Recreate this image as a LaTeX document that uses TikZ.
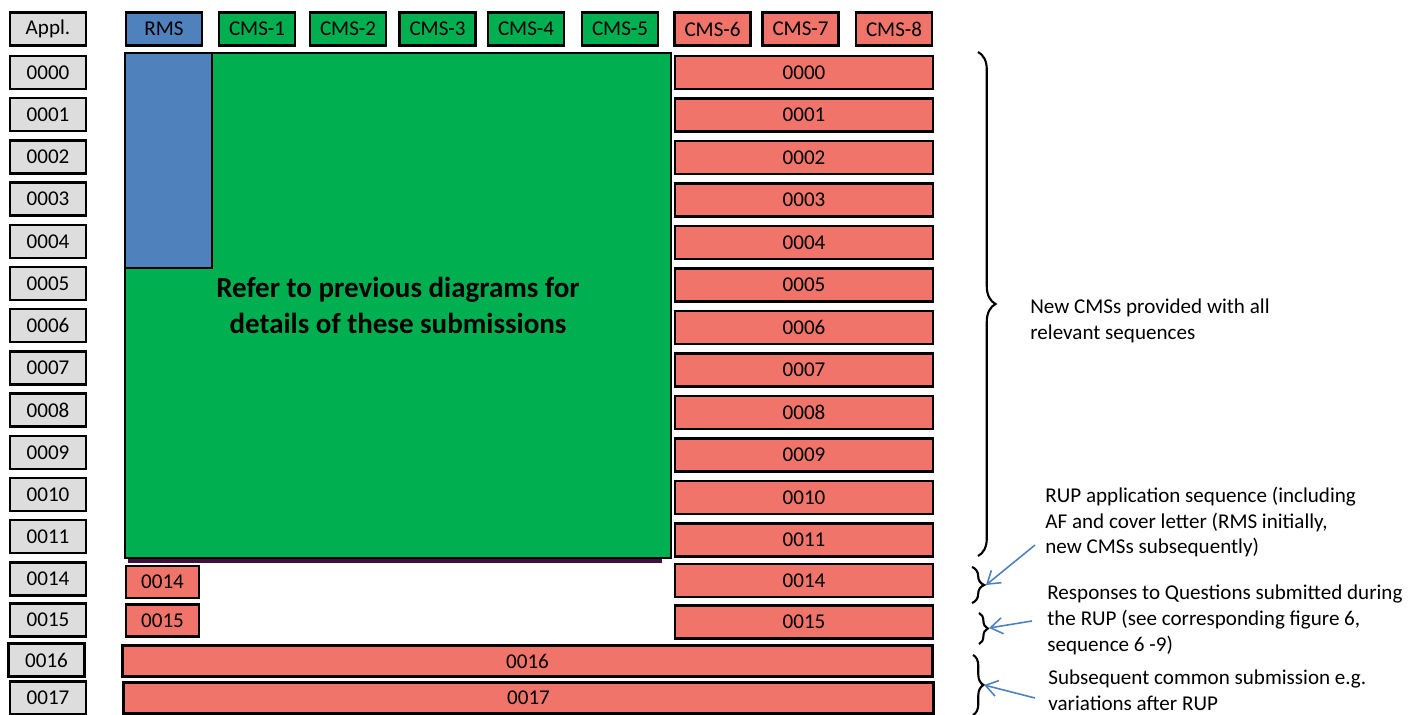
\documentclass[tikz,border=0pt]{standalone}
\usepackage{fontspec}
\setmainfont{Carlito}
\usepackage{tikz}
\usetikzlibrary{
  arrows.meta,
  positioning,
  decorations.pathreplacing,
  calc
}
\definecolor{SeqGray}{HTML}{DDDDDD}
\definecolor{RmsBlue}{HTML}{4F81BD}
\definecolor{CmsGreen}{HTML}{00B050}
\definecolor{CmsRed}{HTML}{F07469}
\definecolor{ArrowBlue}{HTML}{4F81BD}
\definecolor{ShadowPurple}{HTML}{3F0F3F}
\tikzset{
  cell/.style={
    draw=black,
    line width=1.3pt,
    inner sep=0pt,
    align=center,
    font=\fontsize{12}{14}\selectfont
  },
  seqbox/.style={
    cell,
    fill=SeqGray,
    minimum width=1.52cm,
    minimum height=0.66cm
  },
  rmsbox/.style={
    cell,
    fill=RmsBlue,
    minimum width=1.52cm,
    minimum height=0.66cm
  },
  cmsbox/.style={
    cell,
    fill=CmsGreen,
    minimum width=1.52cm,
    minimum height=0.66cm
  },
  newbox/.style={
    cell,
    fill=CmsRed,
    minimum width=1.52cm,
    minimum height=0.66cm
  },
  smallbox/.style={
    cell,
    fill=CmsRed,
    minimum width=1.46cm,
    minimum height=0.64cm
  },
  bar/.style={
    cell,
    fill=CmsRed,
    minimum width=5.16cm,
    minimum height=0.66cm
  },
  widebar/.style={
    cell,
    fill=CmsRed,
    minimum width=16.2cm,
    minimum height=0.62cm
  },
  note/.style={
    align=left,
    anchor=west,
    inner sep=0pt,
    font=\fontsize{12}{14.7}\selectfont
  },
  bracket/.style={
    decorate,
    decoration={brace, amplitude=#1},
    line width=1.2pt
  },
  pointer/.style={
    -{Straight Barb[length=2.4mm, width=3.2mm]},
    draw=ArrowBlue,
    line width=0.9pt
  }
}

\begin{document}
\begin{tikzpicture}[x=0.02cm, y=-0.02cm]

  \useasboundingbox (0,0) rectangle (1416,715);

  % header row
  \node[seqbox] (appl) at (48,29) {Appl.};
  \node[rmsbox] (rms) at (164,29) {RMS};
  \foreach \lbl/\x in {1/257, 2/348, 3/437.5, 4/526, 5/620}
    \node[cmsbox] (cms\lbl) at (\x,29) {CMS-\lbl};
  \foreach \lbl/\x in {6/712.5, 7/800.5, 8/894}
    \node[newbox] (cms\lbl) at (\x,29) {CMS-\lbl};

  % sequence numbers
  \foreach \lbl [count=\i from 0] in {0000,0001,0002,0003,0004,0005,0006,0007,0008,0009,0010,0011}
    \node[seqbox] (seq\lbl) at (48,{72.5+42.2*\i}) {\lbl};
  \node[seqbox] (seq0014) at (48,579) {0014};
  \node[seqbox] (seq0015) at (48,620) {0015};
  \node[seqbox] (seq0016) at (46.5,660) {0016};
  \node[seqbox] (seq0017) at (48,698) {0017};

  % earlier submissions
  \draw[ShadowPurple, line width=2.2pt] (128,561) -- (662,561);
  \node[
    cell,
    fill=CmsGreen,
    minimum width=10.92cm,
    minimum height=10.1cm,
    font=\fontsize{16.5}{20.4}\selectfont\bfseries
  ] (earlier) at (398,305.5) {
    Refer to previous diagrams for\\
    details of these submissions
  };
  \node[
    cell,
    fill=RmsBlue,
    minimum width=1.74cm,
    minimum height=4.3cm
  ] (rmsearly) at (168.5,160.5) {};

  % new CMSs
  \foreach \lbl [count=\i from 0] in {0000,0001,0002,0003,0004,0005,0006,0007,0008,0009,0010,0011}
    \node[bar] (new\lbl) at (804,{72.5+42.5*\i}) {\lbl};
  \node[bar] (new0014) at (804,580.5) {0014};
  \node[bar] (new0015) at (804,622) {0015};
  \node[smallbox] (rms0014) at (162.5,582) {0014};
  \node[smallbox] (rms0015) at (162.5,620.5) {0015};
  \node[widebar] (all0016) at (527.5,661) {0016};
  \node[widebar] (all0017) at (528.5,698) {0017};

  % braces
  \draw[bracket=10pt] (978,52) -- (978,556);
  \draw[bracket=7pt] (972,567) -- (972,603);
  \draw[bracket=5pt] (979,613) -- (979,644);
  \draw[bracket=6pt] (973,655) -- (973,715);
  \coordinate (tip0014) at (986,585);
  \coordinate (tip0015) at (989,628);
  \coordinate (tip0016) at (984,685);

  % notes
  \node[note] (noteNew) at (1030,321) {
    New CMSs provided with all\\
    relevant sequences
  };
  \node[note] (noteRup) at (1045,522) {
    RUP application sequence (including\\
    AF and cover letter (RMS initially,\\
    new CMSs subsequently)
  };
  \node[note] (noteQuest) at (1047,620) {
    Responses to Questions submitted during\\
    the RUP (see corresponding figure 6,\\
    sequence 6 -9)
  };
  \node[note] (noteLater) at (1048,690) {
    Subsequent common submission e.g.\\
    variations after RUP
  };

  \coordinate (from0014) at (1035,545);
  \coordinate (from0015) at (1032,621);
  \coordinate (from0016) at (1035,698);
  \draw[pointer] (from0014) -- (tip0014);
  \draw[pointer] (from0015) -- (tip0015);
  \draw[pointer] (from0016) -- (tip0016);

\end{tikzpicture}
\end{document}
